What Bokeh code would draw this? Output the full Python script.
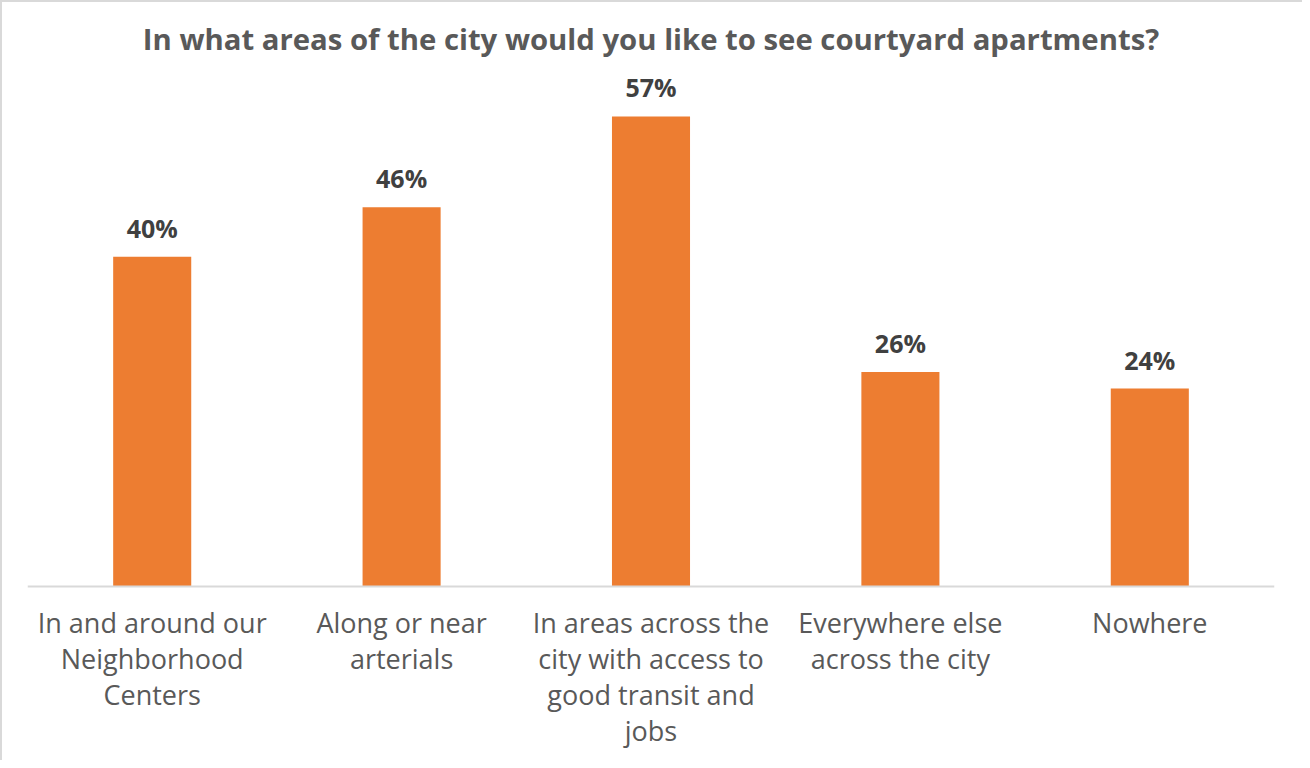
from bokeh.plotting import figure
from bokeh.models import ColumnDataSource, FactorRange, Range1d, Span
from bokeh.core.properties import value
from bokeh.embed import file_html
from bokeh.resources import INLINE

categories = [
    "In and around our\nNeighborhood\nCenters",
    "Along or near\narterials",
    "In areas across the\ncity with access to\ngood transit and\njobs",
    "Everywhere else\nacross the city",
    "Nowhere",
]
values = [0.40, 0.46, 0.57, 0.26, 0.24]
value_labels = ["40%", "46%", "57%", "26%", "24%"]

source = ColumnDataSource(data=dict(cat=categories, val=values, lab=value_labels))

# one row per text line of each category label
line_cat, line_txt, line_off = [], [], []
for c in categories:
    for i, t in enumerate(c.split("\n")):
        line_cat.append(c)
        line_txt.append(t)
        line_off.append(36 + 36 * i)
lines_src = ColumnDataSource(data=dict(cat=line_cat, txt=line_txt, off=line_off,
                                       zero=[0] * len(line_cat)))

p = figure(
    width=1302, height=760,
    x_range=FactorRange(*categories, range_padding=0),
    y_range=Range1d(-0.2037, 0.633),
    output_backend="svg", toolbar_location=None,
    y_axis_location=None, x_axis_location=None,
    min_border_left=25, min_border_right=30,
    min_border_top=62, min_border_bottom=8,
    title="In what areas of the city would you like to see courtyard apartments?",
)
p.styles = {"border-top": "2px solid #d9d9d9", "border-left": "2px solid #d9d9d9"}

p.title.text_font = "Open Sans"
p.title.text_font_size = "29.3px"
p.title.text_font_style = "bold"
p.title.text_color = "#595959"
p.title.align = "center"
p.title.standoff = 11

p.vbar(x="cat", top="val", bottom=0, width=0.313, source=source, color="#ED7D31", line_color=None)
p.text(x="cat", y="val", text="lab", source=source, text_align="center",
       text_baseline="middle", y_offset=-29, text_font=value("Open Sans"),
       text_font_size="25px", text_font_style="bold", text_color="#404040")

p.add_layout(Span(location=0, dimension="width", line_color="#d9d9d9", line_width=2))

p.text(x="cat", y="zero", text="txt", y_offset="off", source=lines_src,
       text_align="center", text_baseline="middle", text_font=value("Open Sans"),
       text_font_size="27px", text_color="#595959")

p.xgrid.grid_line_color = None
p.ygrid.grid_line_color = None
p.outline_line_color = None

open("out.html", "w").write(file_html(p, INLINE))
